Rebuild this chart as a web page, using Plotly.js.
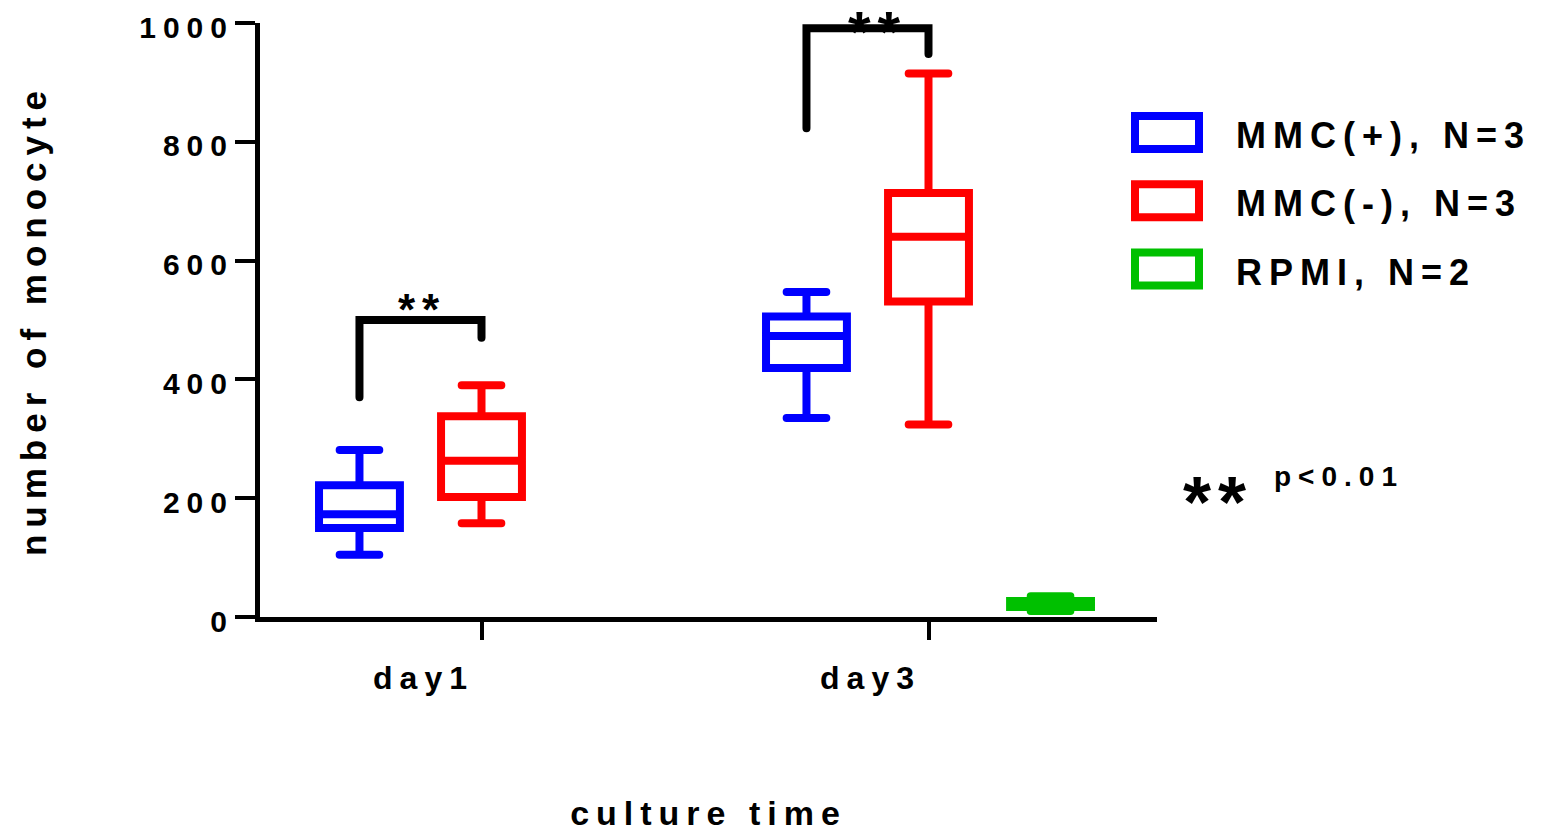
<!DOCTYPE html>
<html>
<head>
<meta charset="utf-8">
<script src="https://cdn.plot.ly/plotly-3.0.1.min.js"></script>
<style>
  html, body { margin: 0; padding: 0; background: #fff; }
  #chart { width: 1542px; height: 832px; }
  text { letter-spacing: 7px; }
  .js-plotly-plot .boxlayer path { stroke-linecap: round; }
  .js-plotly-plot .shapelayer path { stroke-linecap: round; }
</style>
</head>
<body>
<div id="chart"></div>
<script>
// ---------------- data ----------------
const categories = ['day1', 'day3'];
const seriesNames = ['MMC(+), N=3', 'MMC(-), N=3', 'RPMI, N=2'];
const seriesColors = ['#0000FF', '#FF0000', '#00C000'];

// MMC(+)
const mmcPlusLower  = [105, 335];
const mmcPlusQ1     = [150, 419];
const mmcPlusMedian = [173, 473];
const mmcPlusQ3     = [222, 506];
const mmcPlusUpper  = [281, 547];
// MMC(-)
const mmcMinusLower  = [158, 324];
const mmcMinusQ1     = [202, 531];
const mmcMinusMedian = [263, 640];
const mmcMinusQ3     = [338, 714];
const mmcMinusUpper  = [390, 915];
// RPMI (day3 only)
const rpmiLower  = [null, 10];
const rpmiQ1     = [null, 17];
const rpmiMedian = [null, 22];
const rpmiQ3     = [null, 27];
const rpmiUpper  = [null, 35];

// significance brackets between MMC(+) and MMC(-)
const sigCategories = ['day1', 'day3'];
const sigLeftEnd  = [370, 823];
const sigTop      = [500, 991];
const sigRightEnd = [470, 948];
const sigLabels   = ['**', '**'];

const yTickValues = [0, 200, 400, 600, 800, 1000];
const noteStars = '**';
const noteText = 'p<0.01';
const xTitle = 'culture time';
const yTitle = 'number of monocyte';

// ---------------- layout constants ----------------
const W = 1542, H = 832;
const plotL = 260, plotR = 1157, plotT = 23, plotB = 617;
const cat0Px = 481.5, catStepPx = 447;
const groupOffset = 0.273;
const boxWidth = 0.181;
const FONT = 'Liberation Sans, Arial, sans-serif';

const px2x = px => (px - plotL) / (plotR - plotL);
const py2y = py => (plotB - py) / (plotB - plotT);

const stats = [
  [mmcPlusLower, mmcPlusQ1, mmcPlusMedian, mmcPlusQ3, mmcPlusUpper],
  [mmcMinusLower, mmcMinusQ1, mmcMinusMedian, mmcMinusQ3, mmcMinusUpper],
  [rpmiLower, rpmiQ1, rpmiMedian, rpmiQ3, rpmiUpper]
];

const traces = stats.map((s, g) => {
  const idx = categories.map((c, i) => i).filter(i => s[2][i] !== null);
  return {
    type: 'box',
    name: seriesNames[g],
    x: idx.map(i => i + (g - 1) * groupOffset),
    lowerfence: idx.map(i => s[0][i]),
    q1: idx.map(i => s[1][i]),
    median: idx.map(i => s[2][i]),
    q3: idx.map(i => s[3][i]),
    upperfence: idx.map(i => s[4][i]),
    width: boxWidth,
    whiskerwidth: 0.49,
    boxpoints: false,
    fillcolor: 'rgba(255,255,255,0)',
    line: { color: seriesColors[g], width: 8 },
    showlegend: false,
    hoverinfo: 'skip'
  };
});

const shapes = [];
const annotations = [];

// brackets
sigCategories.forEach((c, k) => {
  const i = categories.indexOf(c);
  const xl = i - groupOffset, xr = i;
  shapes.push({
    type: 'path', xref: 'x', yref: 'y',
    path: `M ${xl},${sigLeftEnd[k]} L ${xl},${sigTop[k]} L ${xr},${sigTop[k]} L ${xr},${sigRightEnd[k]}`,
    line: { color: '#000', width: 8 }
  });
  annotations.push({
    xref: 'x', yref: 'y', x: (xl + xr) / 2, y: sigTop[k],
    text: sigLabels[k], showarrow: false,
    xanchor: 'center', yanchor: 'middle',
    xshift: k === 0 ? 2 : 10, yshift: k === 0 ? 11 : -3,
    font: { family: FONT, size: k === 0 ? 44 : 58, color: '#000', weight: 'bold' }
  });
});

// custom legend
const legTop = 132.5, legPitch = 68.3, legHalfH = 16.5;
seriesNames.forEach((n, g) => {
  const cy = legTop + g * legPitch;
  shapes.push({
    type: 'rect', xref: 'paper', yref: 'paper',
    x0: px2x(1135), x1: px2x(1199),
    y0: py2y(cy - legHalfH), y1: py2y(cy + legHalfH),
    line: { color: seriesColors[g], width: 8 },
    fillcolor: 'rgba(255,255,255,0)'
  });
  annotations.push({
    xref: 'paper', yref: 'paper', x: px2x(1234), y: py2y(cy + 3),
    text: n, showarrow: false, xanchor: 'left', yanchor: 'middle',
    font: { family: FONT, size: 36, color: '#000', weight: 'bold' }
  });
});

// p-value note
annotations.push({
  xref: 'paper', yref: 'paper', x: px2x(1218), y: py2y(502),
  text: noteStars, showarrow: false, xanchor: 'center', yanchor: 'middle',
  font: { family: FONT, size: 72, color: '#000', weight: 'bold' }
});
annotations.push({
  xref: 'paper', yref: 'paper', x: px2x(1272), y: py2y(476),
  text: noteText, showarrow: false, xanchor: 'left', yanchor: 'middle',
  font: { family: FONT, size: 28, color: '#000', weight: 'bold' }
});

const layout = {
  width: W, height: H,
  margin: { l: plotL, r: W - plotR, t: plotT, b: H - plotB, pad: 0 },
  paper_bgcolor: '#fff', plot_bgcolor: '#fff',
  boxmode: 'overlay',
  showlegend: false,
  font: { family: FONT, color: '#000', weight: 'bold' },
  xaxis: {
    range: [(plotL - cat0Px) / catStepPx, (plotR - cat0Px) / catStepPx],
    tickvals: categories.map((c, i) => i),
    ticktext: categories,
    ticks: 'outside', ticklen: 18, tickwidth: 4, tickcolor: '#000',
    showline: true, linewidth: 5, linecolor: '#000',
    showgrid: false, zeroline: false,
    ticklabelshift: -58, ticklabelstandoff: 11,
    tickfont: { family: FONT, size: 32, color: '#000', weight: 'bold' },
    title: { text: xTitle, standoff: 108, font: { family: FONT, size: 34, color: '#000', weight: 'bold' } }
  },
  yaxis: {
    range: [0, 1000],
    tickvals: yTickValues,
    ticks: 'outside', ticklen: 20, tickwidth: 4, tickcolor: '#000',
    showline: true, linewidth: 5, linecolor: '#000',
    showgrid: false, zeroline: false,
    ticklabelstandoff: -5, ticklabelshift: 4,
    tickfont: { family: FONT, size: 30, color: '#000', weight: 'bold' },
    title: { text: yTitle, standoff: 84, font: { family: FONT, size: 35, color: '#000', weight: 'bold' } }
  },
  shapes: shapes,
  annotations: annotations
};

Plotly.newPlot('chart', traces, layout, { staticPlot: true, displayModeBar: false });
</script>
</body>
</html>
